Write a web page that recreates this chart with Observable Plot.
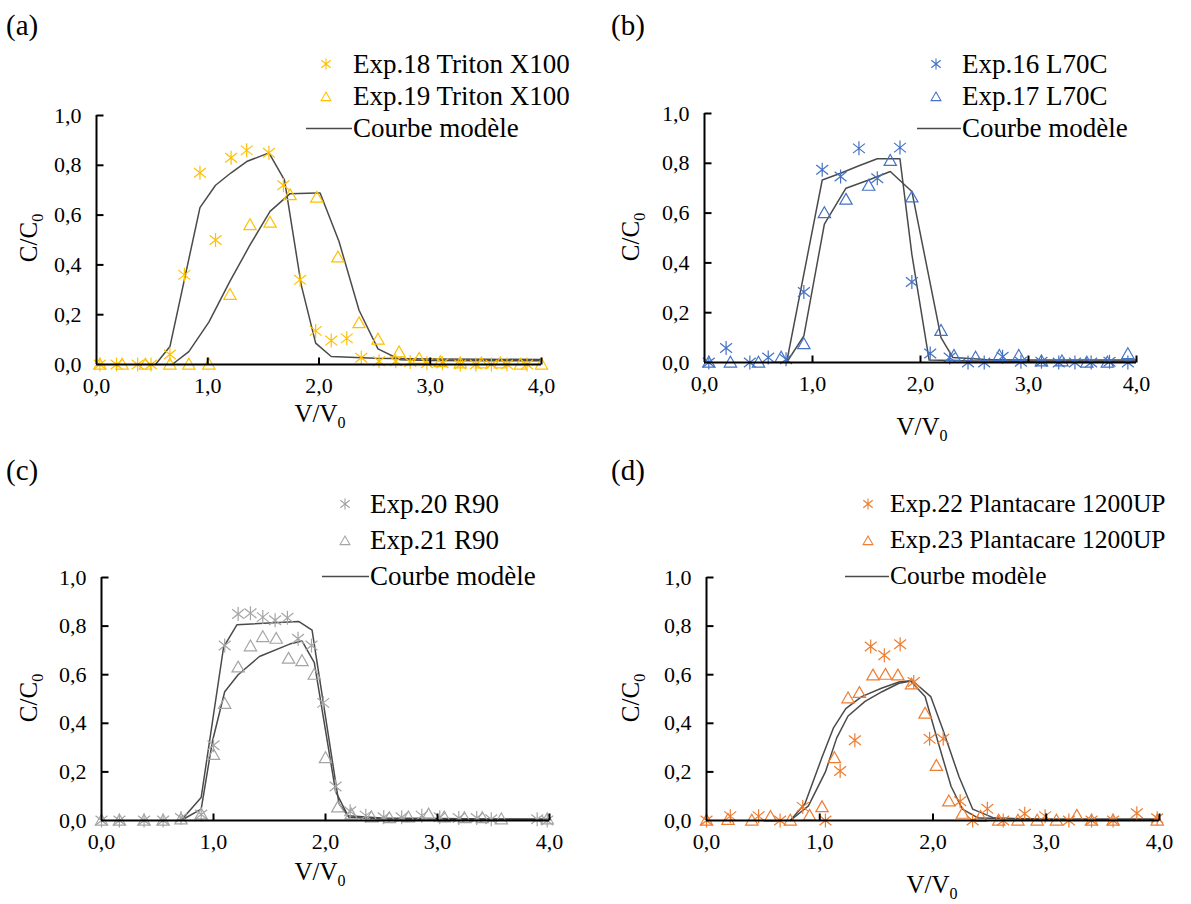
<!DOCTYPE html>
<html><head><meta charset="utf-8">
<script src="https://cdn.jsdelivr.net/npm/d3@7"></script>
<script src="https://cdn.jsdelivr.net/npm/@observablehq/plot@0.6"></script>
<style>
body{margin:0;background:#fff;}
#root{position:relative;width:1191px;height:904px;background:#fff;font-family:"Liberation Serif","Times New Roman",serif;color:#000;overflow:hidden;}
.panel{position:absolute;}
.lbl{position:absolute;font-size:29px;line-height:32px;white-space:nowrap;}
.leg{position:absolute;font-size:27px;line-height:32px;height:32px;white-space:nowrap;}
.ttl{position:absolute;font-size:25px;line-height:28px;white-space:nowrap;}
.ttl sub{font-size:16px;vertical-align:-6px;line-height:0;}
.rot{transform:translate(-50%,-50%) rotate(-90deg);}
.hor{transform:translate(-50%,-50%);}
</style></head>
<body><div id="root"></div>
<script>
// ---------- data ----------
const xTicks = [0, 1, 2, 3, 4];
const yTicks = [0, 0.2, 0.4, 0.6, 0.8, 1.0];

// (a) Triton X100
const a18x = [0.03,0.18,0.37,0.49,0.66,0.79,0.93,1.07,1.21,1.35,1.55,1.68,1.83,1.97,2.11,2.25,2.38,2.54,2.69,2.82,2.97,3.11,3.27,3.41,3.55,3.69,3.87];
const a18y = [0,0,0,0,0.04,0.36,0.77,0.50,0.83,0.86,0.85,0.72,0.34,0.135,0.096,0.105,0.027,0.013,0.013,0.01,0.005,0.005,0,0,0,0,0];
const a19x = [0.03,0.23,0.44,0.66,0.83,1.01,1.20,1.38,1.56,1.74,1.98,2.17,2.36,2.53,2.72,2.90,3.09,3.27,3.46,3.63,3.81,4.0];
const a19y = [0,0,0,0,0,0,0.28,0.56,0.57,0.68,0.67,0.43,0.166,0.10,0.049,0.023,0.01,0.005,0.005,0.005,0,0];
const aM1x = [0.53,0.66,0.93,1.07,1.21,1.35,1.55,1.69,1.84,1.97,2.11,2.5,3.0,3.5,4.0];
const aM1y = [0,0.072,0.63,0.72,0.77,0.815,0.85,0.74,0.32,0.086,0.032,0.025,0.022,0.021,0.02];
const aM2x = [0.68,0.83,1.01,1.20,1.38,1.56,1.74,1.98,2.01,2.18,2.36,2.53,2.73,3.0,3.5,4.0];
const aM2y = [0,0.052,0.17,0.335,0.48,0.615,0.686,0.689,0.689,0.494,0.218,0.0625,0.019,0.016,0.015,0.015];

// (b) L70C
const b16x = [0.04,0.20,0.42,0.59,0.755,0.92,1.09,1.26,1.43,1.60,1.81,1.92,2.09,2.27,2.44,2.59,2.76,2.93,3.12,3.28,3.43,3.58,3.75,3.92];
const b16y = [0,0.058,0,0.02,0.013,0.283,0.774,0.747,0.86,0.74,0.863,0.323,0.036,0.02,0,0,0.023,0.003,0.003,0,0,0,0.003,0];
const b17x = [0.04,0.24,0.50,0.71,0.92,1.11,1.31,1.52,1.72,1.92,2.19,2.31,2.51,2.73,2.91,3.12,3.31,3.54,3.73,3.92];
const b17y = [0,0,0,0.02,0.074,0.60,0.654,0.71,0.81,0.663,0.127,0.027,0.02,0.027,0.027,0.005,0.005,0,0,0.034];
const bM1x = [0.76,1.09,1.26,1.43,1.60,1.81,1.92,2.08,2.5,3.0,3.5,4.0];
const bM1y = [0,0.733,0.76,0.79,0.818,0.818,0.434,0.01,0.006,0.005,0.005,0.005];
const bM2x = [0.76,0.92,1.11,1.31,1.52,1.72,1.92,2.19,2.30,2.6,3.0,3.5,4.0];
const bM2y = [0,0.107,0.556,0.70,0.733,0.767,0.687,0.10,0.02,0.012,0.01,0.01,0.01];

// (c) R90
const c20x = [0,0.16,0.38,0.55,0.71,0.89,1.0,1.10,1.22,1.33,1.44,1.55,1.66,1.755,1.875,1.98,2.09,2.22,2.36,2.52,2.68,2.86,3.02,3.19,3.35,3.48,3.89,3.98];
const c20y = [0,0,0,0,0.01,0.025,0.31,0.72,0.85,0.853,0.837,0.824,0.834,0.748,0.72,0.484,0.14,0.038,0.02,0.013,0.013,0.02,0.013,0.01,0.01,0.005,0.005,0];
const c21x = [0,0.16,0.38,0.55,0.71,0.89,1.0,1.10,1.22,1.33,1.44,1.56,1.67,1.79,1.90,2.0,2.11,2.23,2.41,2.57,2.74,2.92,3.06,3.24,3.40,3.57,3.98];
const c21y = [0,0,0,0,0.005,0.025,0.27,0.48,0.63,0.717,0.755,0.748,0.666,0.656,0.60,0.257,0.054,0.025,0.013,0.01,0.013,0.025,0.013,0.01,0.01,0.005,0.005];
const cM1x = [0.71,0.89,1.09,1.21,1.76,1.88,2.12,2.21,2.5,3.0,3.5,4.0];
const cM1y = [0,0.095,0.713,0.806,0.819,0.783,0.07,0.013,0.006,0.005,0.005,0.005];
const cM2x = [0.71,0.89,0.99,1.10,1.22,1.41,1.68,1.79,1.90,2.09,2.20,2.5,3.0,3.5,4.0];
const cM2y = [0,0.047,0.325,0.53,0.60,0.675,0.726,0.739,0.65,0.12,0.02,0.01,0.008,0.006,0.005];

// (d) Plantacare 1200UP
const d22x = [0,0.21,0.46,0.65,0.85,1.05,1.18,1.31,1.45,1.57,1.71,1.83,1.97,2.09,2.24,2.35,2.48,2.62,2.81,2.99,3.20,3.40,3.59,3.80,3.98];
const d22y = [0,0.018,0.018,0,0.056,0,0.204,0.33,0.716,0.68,0.725,0.57,0.336,0.336,0.079,0,0.048,0,0.028,0.018,0,0,0,0.03,0.009];
const d23x = [0,0.19,0.40,0.565,0.74,0.91,1.02,1.13,1.25,1.35,1.47,1.58,1.69,1.81,1.93,2.03,2.14,2.26,2.42,2.58,2.75,2.92,3.09,3.27,3.40,3.59,3.98];
const d23y = [0,0.003,0,0.015,0,0.02,0.055,0.257,0.503,0.525,0.597,0.60,0.597,0.56,0.44,0.225,0.079,0.028,0.015,0,0,0,0,0.02,0,0,0];
const dM1x = [0.74,0.87,1.02,1.12,1.23,1.37,1.55,1.70,1.80,1.93,2.04,2.16,2.26,2.40,3.0,4.0];
const dM1y = [0,0.07,0.26,0.38,0.46,0.51,0.545,0.57,0.575,0.51,0.33,0.14,0.047,0.01,0.005,0.005];
const dM2x = [0.74,0.90,1.05,1.15,1.25,1.40,1.55,1.70,1.82,1.98,2.09,2.23,2.35,2.54,3.0,4.0];
const dM2y = [0,0.06,0.2,0.34,0.43,0.49,0.53,0.565,0.575,0.51,0.37,0.18,0.047,0.01,0.005,0.005];

const labelsA = ["Exp.18 Triton X100", "Exp.19 Triton X100", "Courbe modèle"];
const labelsB = ["Exp.16 L70C", "Exp.17 L70C", "Courbe modèle"];
const labelsC = ["Exp.20 R90", "Exp.21 R90", "Courbe modèle"];
const labelsD = ["Exp.22 Plantacare 1200UP", "Exp.23 Plantacare 1200UP", "Courbe modèle"];
const colors = {a: "#FFC000", b: "#4472C4", c: "#A5A5A5", d: "#ED7D31"};
const modelColor = "#4a4a4a";

// ---------- helpers ----------
const zip = (xs, ys) => xs.map((x, i) => ({x, y: ys[i]}));
const fmt = d => d3.format(".1f")(d).replace(".", ",");
const starSym = {draw(ctx, size) {
  const r = Math.sqrt(size / Math.PI), d = r * 0.85;
  ctx.moveTo(0, -r); ctx.lineTo(0, r);
  ctx.moveTo(-d, -d * 0.8); ctx.lineTo(d, d * 0.8);
  ctx.moveTo(-d, d * 0.8); ctx.lineTo(d, -d * 0.8);
}};
const triSym = {draw(ctx, size) {
  const r = Math.sqrt(size / Math.PI);
  ctx.moveTo(0, -r); ctx.lineTo(r * 0.98, r * 0.72); ctx.lineTo(-r * 0.98, r * 0.72); ctx.closePath();
}};
const tickUp = {draw(ctx) { ctx.moveTo(0, 0); ctx.lineTo(0, -7); }};
const tickRight = {draw(ctx) { ctx.moveTo(0, 0); ctx.lineTo(7, 0); }};

function shifted(sym, dx, dy, size, ctx) {
  sym.draw({moveTo: (a, b) => ctx.moveTo(a + dx, b + dy), lineTo: (a, b) => ctx.lineTo(a + dx, b + dy), closePath: () => ctx.closePath()}, size);
}

function panel(p) {
  const chart = Plot.plot({
    width: p.w, height: p.h,
    marginLeft: p.ml, marginRight: p.mr, marginTop: p.mt, marginBottom: p.mb,
    x: {domain: [0, 4]},
    y: {domain: [0, 1]},
    style: {fontFamily: '"Liberation Serif","Times New Roman",serif', fontSize: "22px", color: "#000", background: "transparent", overflow: "visible"},
    marks: [
      Plot.axisX({ticks: xTicks, tickFormat: fmt, tickSize: 0, tickPadding: 13, label: null, fontSize: 22}),
      Plot.axisY({ticks: yTicks, tickFormat: fmt, tickSize: 0, tickPadding: 15, label: null, fontSize: 22}),
      Plot.line(zip(p.m1x, p.m1y), {x: "x", y: "y", stroke: modelColor, strokeWidth: 1.5}),
      Plot.line(zip(p.m2x, p.m2y), {x: "x", y: "y", stroke: modelColor, strokeWidth: 1.5}),
      Plot.dot(zip(p.s1x, p.s1y), {x: "x", y: "y", symbol: starSym, r: 7, fill: "none", stroke: p.color, strokeWidth: 1.2}),
      Plot.dot(zip(p.s2x, p.s2y), {x: "x", y: "y", symbol: triSym, r: 6.3, fill: "none", stroke: p.color, strokeWidth: 1.2}),
      Plot.ruleX([0], {stroke: "#000", strokeWidth: 2}),
      Plot.ruleY([0], {stroke: "#000", strokeWidth: 2}),
      Plot.dot(xTicks.slice(1), {x: d => d, y: () => 0, symbol: tickUp, r: 3, fill: "none", stroke: "#000", strokeWidth: 2}),
      Plot.dot(yTicks.slice(1), {x: () => 0, y: d => d, symbol: tickRight, r: 3, fill: "none", stroke: "#000", strokeWidth: 2})
    ]
  });
  const div = document.createElement("div");
  div.className = "panel";
  div.style.left = p.left + "px"; div.style.top = p.top + "px";
  div.appendChild(chart);
  root.appendChild(div);

  // panel letter
  addText("lbl", p.letter, p.letterX, p.letterY - 16);
  // legend
  const rows = p.legRows;
  for (let i = 0; i < 3; i++) {
    const row = document.createElement("div");
    row.className = "leg";
    row.style.left = p.legText + "px";
    row.style.top = (rows[i] - 16) + "px";
    if (p.legSize) row.style.fontSize = p.legSize + "px";
    row.textContent = p.labels[i];
    root.appendChild(row);
    const s = document.createElementNS("http://www.w3.org/2000/svg", "svg");
    s.setAttribute("width", 60); s.setAttribute("height", 32);
    s.style.position = "absolute"; s.style.left = (p.legText - 60) + "px"; s.style.top = (rows[i] - 16) + "px";
    const path = document.createElementNS("http://www.w3.org/2000/svg", "path");
    const ctx = d3.path();
    const mx = p.legMark - p.legText + 60;
    if (i === 0) shifted(starSym, mx, 16, Math.PI * 5.5 * 5.5, ctx);
    else if (i === 1) shifted(triSym, mx, 17, Math.PI * 5 * 5, ctx);
    else { ctx.moveTo(p.lineX0 - p.legText + 60, 16.5); ctx.lineTo(59, 16.5); }
    path.setAttribute("d", ctx.toString());
    path.setAttribute("fill", "none");
    path.setAttribute("stroke", i < 2 ? p.color : modelColor);
    path.setAttribute("stroke-width", i < 2 ? 1.1 : 1.4);
    s.appendChild(path);
    root.appendChild(s);
  }
  // axis titles
  const yt = addText("ttl rot", "", p.yTitleX, p.yTitleY);
  yt.innerHTML = "C/C<sub>0</sub>";
  const xt = addText("ttl hor", "", p.xTitleX, p.xTitleY);
  xt.innerHTML = "V/V<sub>0</sub>";
}
function addText(cls, txt, x, y) {
  const el = document.createElement("div");
  el.className = cls; el.textContent = txt;
  el.style.left = x + "px"; el.style.top = y + "px";
  root.appendChild(el);
  return el;
}
const root = document.getElementById("root");

panel({left: 0, top: 0, w: 595, h: 452, ml: 96, mr: 54, mt: 115, mb: 88,
  color: colors.a, s1x: a18x, s1y: a18y, s2x: a19x, s2y: a19y, m1x: aM1x, m1y: aM1y, m2x: aM2x, m2y: aM2y,
  letter: "(a)", letterX: 6, letterY: 25, labels: labelsA, legRows: [64, 96, 128], legMark: 326, legText: 353, lineX0: 306,
  yTitleX: 29, yTitleY: 238, xTitleX: 320, xTitleY: 414});
panel({left: 595, top: 0, w: 595, h: 452, ml: 109, mr: 54, mt: 113, mb: 90,
  color: colors.b, s1x: b16x, s1y: b16y, s2x: b17x, s2y: b17y, m1x: bM1x, m1y: bM1y, m2x: bM2x, m2y: bM2y,
  letter: "(b)", letterX: 611, letterY: 25, labels: labelsB, legRows: [64, 96, 128], legMark: 936, legText: 962, lineX0: 917,
  yTitleX: 631, yTitleY: 237, xTitleX: 922, xTitleY: 427});
panel({left: 0, top: 452, w: 595, h: 452, ml: 101, mr: 46, mt: 125, mb: 84,
  color: colors.c, s1x: c20x, s1y: c20y, s2x: c21x, s2y: c21y, m1x: cM1x, m1y: cM1y, m2x: cM2x, m2y: cM2y,
  letter: "(c)", letterX: 6, letterY: 470, labels: labelsC, legRows: [504, 540, 576], legMark: 345, legText: 370, lineX0: 322,
  yTitleX: 29, yTitleY: 698, xTitleX: 320, xTitleY: 872});
panel({left: 595, top: 452, w: 595, h: 452, ml: 111, mr: 31, mt: 125, mb: 84,
  color: colors.d, s1x: d22x, s1y: d22y, s2x: d23x, s2y: d23y, m1x: dM1x, m1y: dM1y, m2x: dM2x, m2y: dM2y,
  letter: "(d)", letterX: 611, letterY: 470, labels: labelsD, legRows: [504, 540, 576], legMark: 868, legText: 890, lineX0: 845, legSize: 25.5,
  yTitleX: 631, yTitleY: 698, xTitleX: 932, xTitleY: 885});
</script></body></html>
